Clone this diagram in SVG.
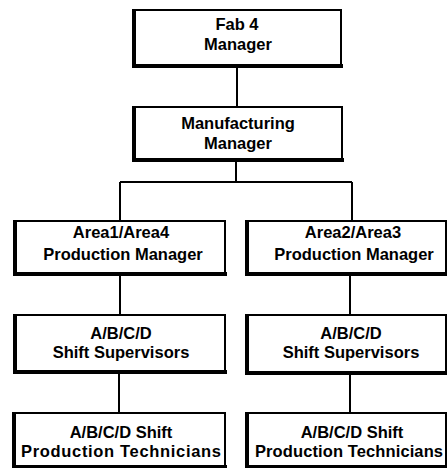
<svg xmlns="http://www.w3.org/2000/svg" width="447" height="468" viewBox="0 0 447 468">
  <style>
    .box { fill: #ffffff; stroke: #000000; stroke-width: 2; }
    .edge { stroke: #000000; stroke-width: 4; stroke-linecap: square; fill: none; }
    .lbl { font-family: "Liberation Sans", Arial, Helvetica, sans-serif; font-weight: bold; font-size: 16.5px; fill: #000000; text-anchor: middle; }
    .wire { stroke: #000000; stroke-width: 2; fill: none; }
  </style>
  <rect width="447" height="468" fill="#ffffff"/>

  <!-- reporting lines -->
  <g id="connectors">
    <line class="wire" x1="237" y1="66" x2="237" y2="107"/>
    <line class="wire" x1="236" y1="160" x2="236" y2="182"/>
    <line class="wire" x1="120" y1="182" x2="352" y2="182"/>
    <line class="wire" x1="120" y1="182" x2="120" y2="221"/>
    <line class="wire" x1="352" y1="182" x2="352" y2="221"/>
    <line class="wire" x1="120" y1="274" x2="120" y2="315"/>
    <line class="wire" x1="350" y1="274" x2="350" y2="315"/>
    <line class="wire" x1="119" y1="372" x2="119" y2="413"/>
    <line class="wire" x1="350" y1="373" x2="350" y2="413"/>
  </g>

  <g id="fab4-manager">
    <rect class="box" x="134" y="10" width="207" height="56"/>
    <path class="edge" d="M134,11 V66 H341"/>
    <text class="lbl" x="237" y="30">Fab 4</text>
    <text class="lbl" x="238" y="50">Manager</text>
  </g>

  <g id="manufacturing-manager">
    <rect class="box" x="134" y="107" width="208" height="53"/>
    <path class="edge" d="M134,108 V160 H342"/>
    <text class="lbl" x="238" y="129">Manufacturing</text>
    <text class="lbl" x="238" y="149">Manager</text>
  </g>

  <g id="area14-manager">
    <rect class="box" x="15" y="221" width="210" height="53"/>
    <path class="edge" d="M15,222 V274 H225"/>
    <text class="lbl" x="121" y="238">Area1/Area4</text>
    <text class="lbl" x="123" y="260">Production Manager</text>
  </g>

  <g id="area23-manager">
    <rect class="box" x="247" y="221" width="199" height="53"/>
    <path class="edge" d="M247,222 V274 H446"/>
    <text class="lbl" x="353" y="238">Area2/Area3</text>
    <text class="lbl" x="354" y="260">Production Manager</text>
  </g>

  <g id="shift-supervisors-1">
    <rect class="box" x="15" y="315" width="210" height="57"/>
    <path class="edge" d="M15,316 V372 H225"/>
    <text class="lbl" x="121" y="339">A/B/C/D</text>
    <text class="lbl" x="121" y="358">Shift Supervisors</text>
  </g>

  <g id="shift-supervisors-2">
    <rect class="box" x="247" y="315" width="199" height="58"/>
    <path class="edge" d="M247,316 V373 H446"/>
    <text class="lbl" x="351" y="339">A/B/C/D</text>
    <text class="lbl" x="351" y="358">Shift Supervisors</text>
  </g>

  <g id="shift-technicians-1">
    <rect class="box" x="14" y="413" width="211" height="54"/>
    <path class="edge" d="M14,414 V467 H225"/>
    <text class="lbl" x="121" y="438">A/B/C/D Shift</text>
    <text class="lbl" x="121" y="457" textLength="200" lengthAdjust="spacing">Production Technicians</text>
  </g>

  <g id="shift-technicians-2">
    <rect class="box" x="247" y="413" width="199" height="54"/>
    <path class="edge" d="M247,414 V467 H446"/>
    <text class="lbl" x="352" y="438">A/B/C/D Shift</text>
    <text class="lbl" x="349" y="457" textLength="188" lengthAdjust="spacing">Production Technicians</text>
  </g>
</svg>
